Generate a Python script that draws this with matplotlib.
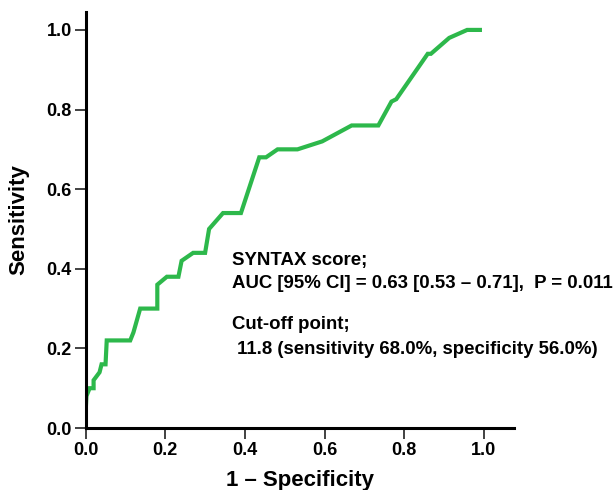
import matplotlib
matplotlib.use("Agg")
import matplotlib.pyplot as plt

plt.rcParams['font.family'] = ['Liberation Sans', 'DejaVu Sans']

# ROC curve
fpr = [0.0, 0.0, 0.002, 0.01, 0.02, 0.02, 0.035, 0.04, 0.05, 0.053, 0.112, 0.12,
       0.137, 0.18, 0.18, 0.204, 0.233, 0.241, 0.27, 0.30, 0.31, 0.345, 0.39,
       0.436, 0.453, 0.482, 0.532, 0.594, 0.668, 0.735, 0.768, 0.78, 0.859,
       0.867, 0.913, 0.958, 0.99]
tpr = [0.0, 0.04, 0.08, 0.10, 0.10, 0.12, 0.14, 0.16, 0.16, 0.22, 0.22, 0.24,
       0.30, 0.30, 0.36, 0.38, 0.38, 0.42, 0.44, 0.44, 0.50, 0.54, 0.54,
       0.68, 0.68, 0.70, 0.70, 0.72, 0.76, 0.76, 0.82, 0.826, 0.94,
       0.94, 0.98, 1.0, 1.0]
ticks = [0.0, 0.2, 0.4, 0.6, 0.8, 1.0]

fig = plt.figure(figsize=(6.16, 4.9), dpi=100)
ax = fig.add_axes([0.139, 0.1265, 0.695, 0.849])

ax.plot(fpr, tpr, color="#2DB84B", lw=3, solid_joinstyle="miter")

ax.set_xlim(0, 1.075)
ax.set_ylim(0, 1.045)
ax.set_xticks(ticks)
ax.set_yticks(ticks)
ax.set_xticklabels([f"{t:.1f}" for t in ticks], fontsize=13, fontweight="bold")
ax.set_yticklabels([f"{t:.1f}" for t in ticks], fontsize=13, fontweight="bold")
ax.tick_params(length=8, width=1.3, direction="out", pad=2, color="#333333")

ax.spines["top"].set_visible(False)
ax.spines["right"].set_visible(False)
ax.spines["left"].set_linewidth(2.2)
ax.spines["bottom"].set_linewidth(2.2)

ax.set_xlabel("1 – Specificity", fontsize=16, fontweight="bold", labelpad=8)
ax.set_ylabel("Sensitivity", fontsize=16, fontweight="bold", labelpad=12)

kw = dict(fontsize=13.4, fontweight="bold", va="center", ha="left", clip_on=False)
ax.text(0.368, 0.422, "SYNTAX score;", **kw)
ax.text(0.368, 0.364, "AUC [95% CI] = 0.63 [0.53 – 0.71],  P = 0.011", **kw)
ax.text(0.368, 0.259, "Cut-off point;", **kw)
ax.text(0.368, 0.198, " 11.8 (sensitivity 68.0%, specificity 56.0%)", **kw)

fig.savefig("out.png", dpi=100)
